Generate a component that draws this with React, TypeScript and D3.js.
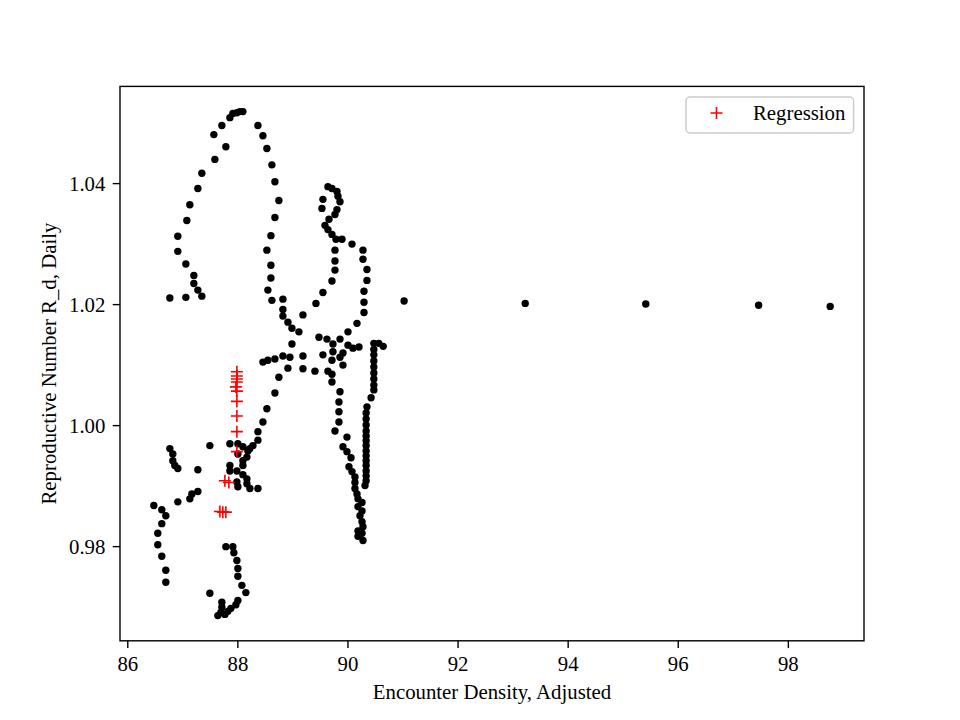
import React from "react";
import * as d3 from "d3";

const archPts: [number, number][] = [
  [86.764,1.0211],[87.055,1.0212],[87.345,1.0214],[87.273,1.0224],[87.2,1.0235],[87.2,1.0248],[87.055,1.0267],[86.909,1.0288],[86.909,1.0313],[87.073,1.0339],[87.127,1.0365],[87.273,1.0392],[87.345,1.0417],[87.582,1.0440],[87.782,1.0461],[87.564,1.0481],[87.709,1.0496],[87.855,1.0509],[87.909,1.0516],[87.982,1.0517],[88.036,1.0519],[88.091,1.0519],
  [88.364,1.0496],[88.455,1.0479],[88.527,1.0458],[88.618,1.0431],[88.673,1.0403],[88.745,1.0372],[88.673,1.0344],[88.6,1.0314],[88.527,1.0290],[88.6,1.0265],[88.6,1.0244],[88.545,1.0224],[88.618,1.0207],[88.818,1.0209],[88.818,1.0192],[88.818,1.0181],[88.909,1.0171],[88.982,1.0161],[89.109,1.0155],[88.982,1.0135]
];
const loopPts: [number, number][] = [
  [89.636,1.0395],[89.709,1.0392],[89.8,1.0387],[89.818,1.0379],[89.855,1.0370],[89.545,1.0374],[89.527,1.0359],[89.8,1.0357],[89.764,1.0349],[89.655,1.0341],[89.582,1.0331],[89.636,1.0324],[89.709,1.0316],[89.782,1.0308],[89.891,1.0308],[90.073,1.0300],[90.273,1.0290],[90.273,1.0275],[90.345,1.0258],[90.345,1.0240],[90.291,1.0222],[90.291,1.0204],[90.291,1.0187],[90.164,1.0169],[90.0,1.0155],[89.855,1.0143],
  [89.764,1.0290],[89.764,1.0272],[89.764,1.0257],[89.709,1.0239],[89.545,1.0220],[89.418,1.0202],[89.182,1.0183]
];
const junctionPts: [number, number][] = [
  [89.473,1.0146],[89.618,1.0143],[89.727,1.0135],[90.0,1.0133],[90.091,1.0128],[90.2,1.0130],[89.909,1.0120],[89.727,1.0122],[89.709,1.0108],[89.545,1.0117],[89.855,1.0113],[89.909,1.0100],[89.182,1.0115],[89.182,1.0094],[89.4,1.0090],[89.636,1.0090],[89.709,1.0085],[89.709,1.0072],[89.855,1.0056],
  [88.455,1.0105],[88.545,1.0108],[88.673,1.0110],[88.818,1.0115],[88.945,1.0113],[88.909,1.0095],[88.745,1.0080],[88.673,1.0054],[88.527,1.0028],[88.455,1.0006],[88.364,0.9990],[88.364,0.9976],[88.273,0.9967],[88.182,0.9958]
];
const midColumn: [number, number][] = [
  [89.836,1.0039],[89.836,1.0023],[89.836,1.0006],[89.764,0.9991],[89.982,0.9981],[89.909,0.9965],[89.982,0.9957],[90.055,0.9947],[90.018,0.9932],[90.073,0.9924],[90.127,0.9915],[90.127,0.9906],[90.127,0.9896],[90.164,0.9887],[90.182,0.9879],[90.255,0.9873],[90.182,0.9866],[90.255,0.9859],[90.218,0.9851],[90.255,0.9841],[90.273,0.9833],[90.182,0.9826],[90.255,0.9822],[90.182,0.9817],[90.273,0.9810]
];
const rightColumn: [number, number][] = [
  [90.47,1.0136],[90.56,1.0136],[90.64,1.0131],[90.47,1.0126],[90.47,1.0117],[90.47,1.0107],[90.47,1.0097],[90.47,1.0087],[90.47,1.0077],[90.47,1.0067],[90.47,1.0059],[90.42,1.0046],[90.345,1.0031],[90.33,1.0021],[90.33,1.0011],[90.33,1.0001],[90.33,0.9991],[90.33,0.9983],[90.33,0.9975],[90.33,0.9967],[90.33,0.9958],[90.33,0.9950],[90.33,0.9942],[90.33,0.9934],[90.33,0.9925],[90.33,0.9917],[90.33,0.9909],[90.31,0.9901]
];
const lowerLeft: [number, number][] = [
  [87.855,0.9970],[88.0,0.9970],[88.091,0.9965],[88.218,0.9962],[88.0,0.9953],[88.164,0.9948],[88.091,0.9942],[88.091,0.9934],[87.855,0.9934],[87.855,0.9925],[87.982,0.9925],[88.091,0.9919],[88.164,0.9912],[87.982,0.9907],[88.0,0.9899],[88.164,0.9904],[88.218,0.9896],[88.364,0.9896],[87.491,0.9967],
  [86.764,0.9962],[86.818,0.9953],[86.818,0.9942],[86.855,0.9934],[86.909,0.9929],[87.273,0.9927],[87.273,0.9891],[87.164,0.9887],[87.127,0.9879],[86.909,0.9874],[86.473,0.9868],[86.618,0.9861],[86.691,0.9851],[86.618,0.9838],[86.545,0.9822],[86.545,0.9803],[86.618,0.9784],[86.691,0.9761],[86.691,0.9741]
];
const bottomLoop: [number, number][] = [
  [87.782,0.9800],[87.909,0.9800],[87.927,0.9790],[87.982,0.9777],[88.0,0.9764],[88.0,0.9751],[88.073,0.9736],[88.145,0.9724],[87.491,0.9723],[88.0,0.9711],[87.964,0.9704],[87.709,0.9708],[87.709,0.9700],[87.873,0.9698],[87.818,0.9693],[87.764,0.9688],[87.636,0.9686],[87.691,0.9691]
];
const tailPts: [number, number][] = [
  [91.02,1.0206],[93.22,1.0202],[95.41,1.0201],[97.46,1.0199],[98.76,1.0197]
];
const regressionPts: [number, number][] = [
  [87.982,1.0089],[87.982,1.0082],[87.982,1.0077],[87.982,1.0072],[87.964,1.0064],[87.982,1.0057],[87.982,1.0040],[87.982,1.0016],[87.982,0.9990],[87.982,0.9957],[87.764,0.9909],[87.836,0.9906],[87.673,0.9858],[87.727,0.9857],[87.782,0.9857]
];
const xTicks = [86, 88, 90, 92, 94, 96, 98];
const yTicks = [0.98, 1.0, 1.02, 1.04];
const xLabel = "Encounter Density, Adjusted";
const yLabel = "Reproductive Number R_d, Daily";
const legendLabel = "Regression";

const W = 960, H = 720;
const M = { left: 120, right: 864, top: 86.4, bottom: 640.8 };
const FONT = "'Liberation Serif', 'Times New Roman', serif";
const FS = 20.8;

export default function App() {
  const dots = [...archPts, ...loopPts, ...junctionPts, ...midColumn, ...rightColumn, ...lowerLeft, ...bottomLoop, ...tailPts];
  const all = [...dots, ...regressionPts];
  const [x0, x1] = d3.extent(all, d => d[0]) as [number, number];
  const [y0, y1] = d3.extent(all, d => d[1]) as [number, number];
  const px = (x1 - x0) * 0.05, py = (y1 - y0) * 0.05;
  const x = d3.scaleLinear().domain([x0 - px, x1 + px]).range([M.left, M.right]);
  const y = d3.scaleLinear().domain([y0 - py, y1 + py]).range([M.bottom, M.top]);
  const tick = 7.3, pad = 7.3;
  const plus = 6;
  return (
    <svg width={W} height={H} style={{ position: "absolute", left: 0, top: 0, background: "#fff" }} fontFamily={FONT}>
      <rect x={0} y={0} width={W} height={H} fill="#fff" />
      <g>
        {dots.map((d, i) => (
          <circle key={i} cx={x(d[0])} cy={y(d[1])} r={3.7} fill="#000" />
        ))}
        {regressionPts.map((d, i) => (
          <path key={i} d={`M${x(d[0]) - plus},${y(d[1])}h${plus * 2}M${x(d[0])},${y(d[1]) - plus}v${plus * 2}`} stroke="#ff0000" strokeWidth={1.6} fill="none" />
        ))}
      </g>
      <rect x={M.left} y={M.top} width={M.right - M.left} height={M.bottom - M.top} fill="none" stroke="#000" strokeWidth={1.4} />
      {xTicks.map(t => (
        <g key={t} transform={`translate(${x(t)},${M.bottom})`}>
          <line y2={tick} stroke="#000" strokeWidth={1.4} />
          <text y={tick + pad} dy="0.75em" textAnchor="middle" fontSize={FS}>{t}</text>
        </g>
      ))}
      {yTicks.map(t => (
        <g key={t} transform={`translate(${M.left},${y(t)})`}>
          <line x2={-tick} stroke="#000" strokeWidth={1.4} />
          <text x={-tick - pad} dy="0.35em" textAnchor="end" fontSize={FS}>{d3.format(".2f")(t)}</text>
        </g>
      ))}
      <text x={(M.left + M.right) / 2} y={699} textAnchor="middle" fontSize={FS}>{xLabel}</text>
      <text transform={`translate(56,${(M.top + M.bottom) / 2}) rotate(-90)`} textAnchor="middle" fontSize={FS}>{yLabel}</text>
      <g>
        <rect x={686} y={97} width={167.6} height={36} rx={4} fill="#fff" fillOpacity={0.8} stroke="#cccccc" strokeWidth={1.5} />
        <path d={`M${716.5 - plus},113h${plus * 2}M716.5,${113 - plus}v${plus * 2}`} stroke="#ff0000" strokeWidth={1.6} />
        <text x={753} y={113} dy="0.35em" fontSize={FS}>{legendLabel}</text>
      </g>
    </svg>
  );
}
